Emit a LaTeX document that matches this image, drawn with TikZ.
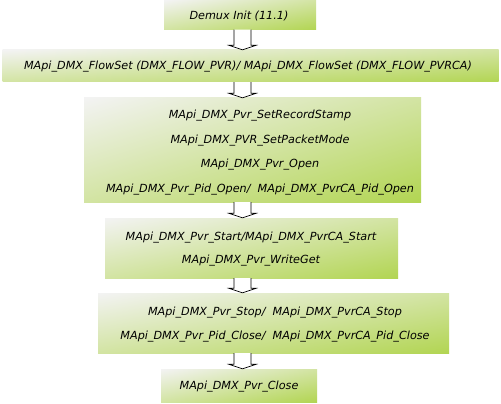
\documentclass[tikz,border=0pt]{standalone}
\usepackage{fontspec}
\setmainfont{DejaVu Sans}
\usetikzlibrary{calc}
\pgfdeclarefunctionalshading{diagsh}{\pgfpoint{0bp}{0bp}}{\pgfpoint{100bp}{100bp}}{}{
  75 exch sub exch 25 sub add 100 div
  dup 0 lt {pop 0} if dup 1 gt {pop 1} if
  dup dup
  -0.631 mul 0.953 add
  3 1 roll
  -0.118 mul 0.953 add
  exch
  -0.255 mul 0.953 add
  3 1 roll exch
}
\tikzset{
  box/.style={rectangle, draw=none, inner sep=0pt, shade, shading=diagsh},
  txt/.style={inner sep=0pt, align=center, font=\fontsize{11.2}{24.5}\selectfont\itshape},
  barrow/.style={fill=white, draw=black, line width=0.7pt, line join=miter}
}
\newcommand{\blockarr}[2]{%
  \draw[barrow] ($(axis |- #1.south)+(-8.5,0)$) -- ($(axis |- #2.north)+(-8.5,-4.5)$)
    -- ($(axis |- #2.north)+(-13.5,-4.5)$) -- (axis |- #2.north)
    -- ($(axis |- #2.north)+(13.5,-4.5)$) -- ($(axis |- #2.north)+(8.5,-4.5)$)
    -- ($(axis |- #1.south)+(8.5,0)$);}
\begin{document}
\begin{tikzpicture}[x=1pt,y=-1pt]
\useasboundingbox (0,0) rectangle (501,404);
\fill[white] (0,0) rectangle (501,404);
\coordinate (axis) at (242.5,0);
% boxes
\node[box, minimum width=152pt, minimum height=29pt] (b1) at (240,15) {};
\node[box, minimum width=496pt, minimum height=32pt] (b2) at (250.5,66) {};
\node[box, minimum width=337pt, minimum height=104pt] (b3) at (252.5,150) {};
\node[box, minimum width=293pt, minimum height=60pt] (b4) at (251.5,248) {};
\node[box, minimum width=351pt, minimum height=60pt] (b5) at (273.5,323) {};
\node[box, minimum width=156pt, minimum height=33pt] (b6) at (239,385.5) {};
% texts
\node[txt] (t1) at (239,15.5) {Demux Init (11.1)};
\node[txt] (t2) at (248,67) {MApi\_DMX\_FlowSet (DMX\_FLOW\_PVR)/ MApi\_DMX\_FlowSet (DMX\_FLOW\_PVRCA)};
\node[txt] (t3) at (260,152.5) {MApi\_DMX\_Pvr\_SetRecordStamp\\MApi\_DMX\_PVR\_SetPacketMode\\MApi\_DMX\_Pvr\_Open\\MApi\_DMX\_Pvr\_Pid\_Open/ \ MApi\_DMX\_PvrCA\_Pid\_Open};
\node[txt, font=\fontsize{11.2}{23}\selectfont\itshape] (t4) at (251,249) {MApi\_DMX\_Pvr\_Start/MApi\_DMX\_PvrCA\_Start\\MApi\_DMX\_Pvr\_WriteGet};
\node[txt, font=\fontsize{11.2}{24}\selectfont\itshape] (t5) at (275,324.5) {MApi\_DMX\_Pvr\_Stop/ \ MApi\_DMX\_PvrCA\_Stop\\MApi\_DMX\_Pvr\_Pid\_Close/ \ MApi\_DMX\_PvrCA\_Pid\_Close};
\node[txt] (t6) at (239,387) {MApi\_DMX\_Pvr\_Close};
% arrows
\blockarr{b1}{b2}
\blockarr{b2}{b3}
\blockarr{b3}{b4}
\blockarr{b4}{b5}
\blockarr{b5}{b6}
\end{tikzpicture}
\end{document}
